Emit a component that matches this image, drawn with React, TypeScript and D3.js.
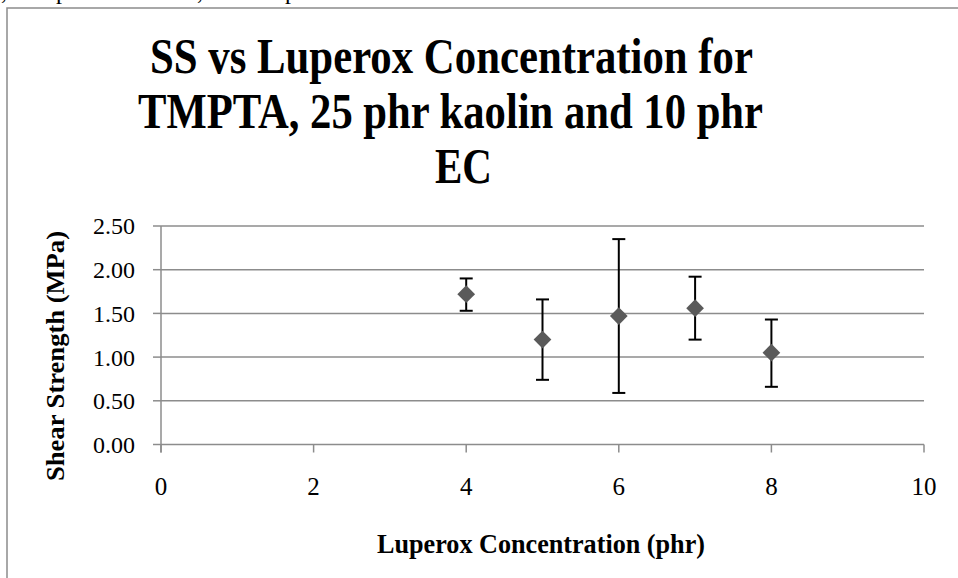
import * as d3 from "d3";

const concentrations = [4, 5, 6, 7, 8];
const shearStrength = [1.72, 1.2, 1.47, 1.56, 1.05];
const errorUpper = [1.9, 1.66, 2.35, 1.92, 1.43];
const errorLower = [1.53, 0.74, 0.59, 1.2, 0.66];
const xTicks = [0, 2, 4, 6, 8, 10];
const yTicks = [0, 0.5, 1, 1.5, 2, 2.5];
const titleLines = [
  "SS vs Luperox Concentration for",
  "TMPTA, 25 phr kaolin and 10 phr",
  "EC",
];

const width = 958;
const height = 578;
const plot = { left: 161, right: 924, top: 226, bottom: 444.5 };
const font = "'Liberation Serif', 'Times New Roman', serif";
const axisColor = "#8c8c8c";

const App = () => {
  const x = d3.scaleLinear().domain([0, 10]).range([plot.left, plot.right]);
  const y = d3.scaleLinear().domain([0, 2.5]).range([plot.bottom, plot.top]);
  const diamond = d3.symbol().type(d3.symbolDiamond2).size(200)()!;

  // title lines: [x start, baseline, squeezed width]
  const titlePos = [
    [150, 73, 603],
    [138, 128, 625],
    [435, 183, 57],
  ];

  return (
    <svg
      width={width}
      height={height}
      style={{ position: "absolute", left: 0, top: 0, background: "#fff" }}
      fontFamily={font}
    >
      {/* remains of the text line above the chart */}
      <g fontSize={24} fill="#000">
        <text x={1} y={-1}>,</text>
        <text x={56} y={-1}>p</text>
        <text x={197} y={-1}>,</text>
        <text x={285} y={-1}>p</text>
      </g>

      <rect
        x={7}
        y={8}
        width={width}
        height={height}
        fill="#fff"
        stroke={axisColor}
        strokeWidth={1.5}
      />

      {titleLines.map((t, i) => (
        <text
          key={t}
          x={titlePos[i][0]}
          y={titlePos[i][1]}
          fontSize={50}
          fontWeight="bold"
          textLength={titlePos[i][2]}
          lengthAdjust="spacingAndGlyphs"
        >
          {t}
        </text>
      ))}

      {/* gridlines */}
      {yTicks.slice(1).map((v) => (
        <line
          key={v}
          x1={plot.left}
          x2={plot.right}
          y1={y(v)}
          y2={y(v)}
          stroke={axisColor}
          strokeWidth={1.5}
        />
      ))}

      {/* y axis */}
      <line x1={plot.left} x2={plot.left} y1={plot.top} y2={plot.bottom + 8} stroke={axisColor} strokeWidth={1.5} />
      {yTicks.map((v) => (
        <g key={v}>
          <line x1={plot.left - 8} x2={plot.left} y1={y(v)} y2={y(v)} stroke={axisColor} strokeWidth={1.5} />
          <text x={135} y={y(v)} dy="0.35em" textAnchor="end" fontSize={24}>
            {v.toFixed(2)}
          </text>
        </g>
      ))}

      {/* x axis */}
      <line x1={plot.left} x2={plot.right} y1={plot.bottom} y2={plot.bottom} stroke={axisColor} strokeWidth={1.5} />
      {xTicks.map((v) => (
        <g key={v}>
          <line x1={x(v)} x2={x(v)} y1={plot.bottom} y2={plot.bottom + 8} stroke={axisColor} strokeWidth={1.5} />
          <text x={x(v)} y={495} textAnchor="middle" fontSize={25}>
            {v}
          </text>
        </g>
      ))}

      <text
        x={541}
        y={553}
        textAnchor="middle"
        fontSize={28}
        fontWeight="bold"
        textLength={328}
        lengthAdjust="spacingAndGlyphs"
      >
        Luperox Concentration (phr)
      </text>
      <text
        transform="translate(64,356) rotate(-90)"
        textAnchor="middle"
        fontSize={26}
        fontWeight="bold"
        textLength={250}
        lengthAdjust="spacingAndGlyphs"
      >
        Shear Strength (MPa)
      </text>

      {/* error bars */}
      {concentrations.map((c, i) => (
        <g key={c} stroke="#000" strokeWidth={2}>
          <line x1={x(c)} x2={x(c)} y1={y(errorUpper[i])} y2={y(errorLower[i])} />
          <line x1={x(c) - 6.5} x2={x(c) + 6.5} y1={y(errorUpper[i])} y2={y(errorUpper[i])} />
          <line x1={x(c) - 6.5} x2={x(c) + 6.5} y1={y(errorLower[i])} y2={y(errorLower[i])} />
        </g>
      ))}

      {/* points */}
      {concentrations.map((c, i) => (
        <path
          key={c}
          d={diamond}
          transform={`translate(${x(c)},${y(shearStrength[i])})`}
          fill="#5a5a5a"
        />
      ))}
    </svg>
  );
};

export default App;
